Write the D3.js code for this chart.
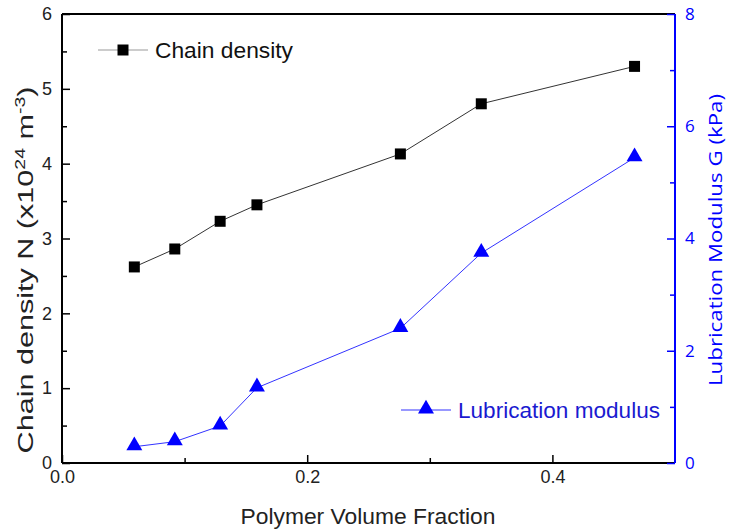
<!DOCTYPE html>
<html><head><meta charset="utf-8">
<script src="https://cdn.jsdelivr.net/npm/d3@7"></script>
<style>body{margin:0;background:#fff;} svg{display:block;}</style>
</head><body>
<svg id="c" width="729" height="531"></svg>
<script>
const fraction = [0.059, 0.092, 0.129, 0.159, 0.276, 0.342, 0.467];
const chainDensity = [2.62, 2.86, 3.23, 3.45, 4.13, 4.80, 5.30];
const lubricationModulus = [0.29, 0.38, 0.66, 1.34, 2.40, 3.74, 5.44];
const xTicks = [0.0, 0.2, 0.4];
const yLeftTicks = [0, 1, 2, 3, 4, 5, 6];
const yRightTicks = [0, 2, 4, 6, 8];

const svg = d3.select("#c");
const L = 62, R = 675, T = 14, B = 463;
const x = d3.scaleLinear().domain([0, 0.5]).range([L, R]);
const yL = d3.scaleLinear().domain([0, 6]).range([B, T]);
const yR = d3.scaleLinear().domain([0, 8]).range([B, T]);
const blue = "#0000ff";
const font = "'Liberation Sans', Arial, sans-serif";
const font2 = "'Open Sans', 'DejaVu Sans', sans-serif";

// frame top
svg.append("line").attr("x1", L).attr("x2", R).attr("y1", T).attr("y2", T).attr("stroke", "#000").attr("stroke-width", 2);

// bottom axis
const gx = svg.append("g").attr("transform", `translate(0,${B})`)
  .call(d3.axisBottom(x).tickValues(xTicks).tickFormat(d3.format(".1f")).tickSize(-8).tickPadding(7));
gx.selectAll(".tick text").attr("font-family", font).attr("font-size", 18).attr("fill", "#222");
gx.select(".domain").attr("stroke-width", 2).attr("d", `M${L},0H${R}`);
gx.selectAll(".tick line").attr("stroke-width", 1.5);
svg.append("g").attr("transform", `translate(0,${B})`)
  .call(d3.axisBottom(x).tickValues([0.1, 0.3]).tickSize(-5).tickFormat(""))
  .call(g => g.select(".domain").remove()).selectAll("line").attr("stroke-width", 1.5);

// left axis
const gl = svg.append("g").attr("transform", `translate(${L},0)`)
  .call(d3.axisLeft(yL).tickValues(yLeftTicks).tickFormat(d3.format("d")).tickSize(-8).tickPadding(10));
gl.selectAll(".tick text").attr("font-family", font).attr("font-size", 18).attr("fill", "#222");
gl.select(".domain").attr("stroke-width", 2).attr("d", `M0,${T}V${B}`);
gl.selectAll(".tick line").attr("stroke-width", 1.5);
svg.append("g").attr("transform", `translate(${L},0)`)
  .call(d3.axisLeft(yL).tickValues([0.5, 1.5, 2.5, 3.5, 4.5, 5.5]).tickSize(-5).tickFormat(""))
  .call(g => g.select(".domain").remove()).selectAll("line").attr("stroke-width", 1.5);

// right axis
const gr = svg.append("g").attr("transform", `translate(${R},0)`)
  .call(d3.axisRight(yR).tickValues(yRightTicks).tickFormat(d3.format("d")).tickSize(-8).tickPadding(10));
gr.selectAll(".tick text").attr("font-family", font2).attr("font-size", 17).attr("fill", blue);
gr.select(".domain").attr("stroke", blue).attr("stroke-width", 2).attr("d", `M0,${T}V${B}`);
gr.selectAll(".tick line").attr("stroke", blue).attr("stroke-width", 1.5);
svg.append("g").attr("transform", `translate(${R},0)`)
  .call(d3.axisRight(yR).tickValues([1, 3, 5, 7]).tickSize(-5).tickFormat(""))
  .call(g => g.select(".domain").remove()).selectAll("line").attr("stroke", blue).attr("stroke-width", 1.5);

// axis titles
svg.append("text").attr("x", 368).attr("y", 524).attr("text-anchor", "middle")
  .attr("font-family", font).attr("font-size", 22).attr("fill", "#222")
  .attr("textLength", 255).attr("lengthAdjust", "spacingAndGlyphs").text("Polymer Volume Fraction");
const lt = svg.append("text").attr("transform", `translate(33,${270}) rotate(-90)`)
  .attr("text-anchor", "middle").attr("font-family", font).attr("font-size", 22).attr("fill", "#222");
lt.append("tspan").text("Chain density N (x10");
lt.append("tspan").attr("dy", -8).attr("font-size", 14).text("24");
lt.append("tspan").attr("dy", 8).text(" m");
lt.append("tspan").attr("dy", -8).attr("font-size", 14).text("-3");
lt.append("tspan").attr("dy", 8).text(")");
// stretch to reference length
{
  const bb = lt.node().getBBox();
  const s = 367 / bb.width;
  lt.attr("transform", `translate(33,270) rotate(-90) scale(${s},1)`);
}
svg.append("text").attr("transform", `translate(722,240) rotate(-90)`)
  .attr("text-anchor", "middle").attr("font-family", font2).attr("font-size", 18).attr("fill", blue)
  .attr("textLength", 292).attr("lengthAdjust", "spacingAndGlyphs")
  .text("Lubrication Modulus G (kPa)");

// series
const idx = d3.range(fraction.length);
svg.append("path").attr("d", d3.line().x(i => x(fraction[i])).y(i => yL(chainDensity[i]))(idx))
  .attr("fill", "none").attr("stroke", "#333").attr("stroke-width", 1);
svg.append("path").attr("d", d3.line().x(i => x(fraction[i])).y(i => yR(lubricationModulus[i]))(idx))
  .attr("fill", "none").attr("stroke", "#3333ff").attr("stroke-width", 1);
const sq = d3.symbol().type(d3.symbolSquare).size(121);
const tri = d3.symbol().type(d3.symbolTriangle).size(110);
svg.selectAll(".sq").data(idx).join("path").attr("d", sq)
  .attr("transform", i => `translate(${x(fraction[i])},${yL(chainDensity[i])})`).attr("fill", "#000");
svg.selectAll(".tri").data(idx).join("path").attr("d", tri)
  .attr("transform", i => `translate(${x(fraction[i])},${yR(lubricationModulus[i]) - 1})`).attr("fill", blue);

// legends
const lg1 = svg.append("g").attr("transform", "translate(98,50)");
lg1.append("line").attr("x1", 0).attr("x2", 50).attr("stroke", "#999").attr("stroke-width", 1.2);
lg1.append("path").attr("d", sq).attr("transform", "translate(25,0)").attr("fill", "#000");
lg1.append("text").attr("x", 57).attr("y", 8).attr("font-family", font).attr("font-size", 22).attr("fill", "#111")
  .attr("textLength", 138).attr("lengthAdjust", "spacingAndGlyphs").text("Chain density");
const lg2 = svg.append("g").attr("transform", "translate(401,410)");
lg2.append("line").attr("x1", 0).attr("x2", 50).attr("stroke", "#3333ff").attr("stroke-width", 1.2);
lg2.append("path").attr("d", tri).attr("transform", "translate(25,-1)").attr("fill", blue);
lg2.append("text").attr("x", 57).attr("y", 8).attr("font-family", font).attr("font-size", 22).attr("fill", "#1a1ad0")
  .attr("textLength", 202).attr("lengthAdjust", "spacingAndGlyphs").text("Lubrication modulus");
</script>
</body></html>
